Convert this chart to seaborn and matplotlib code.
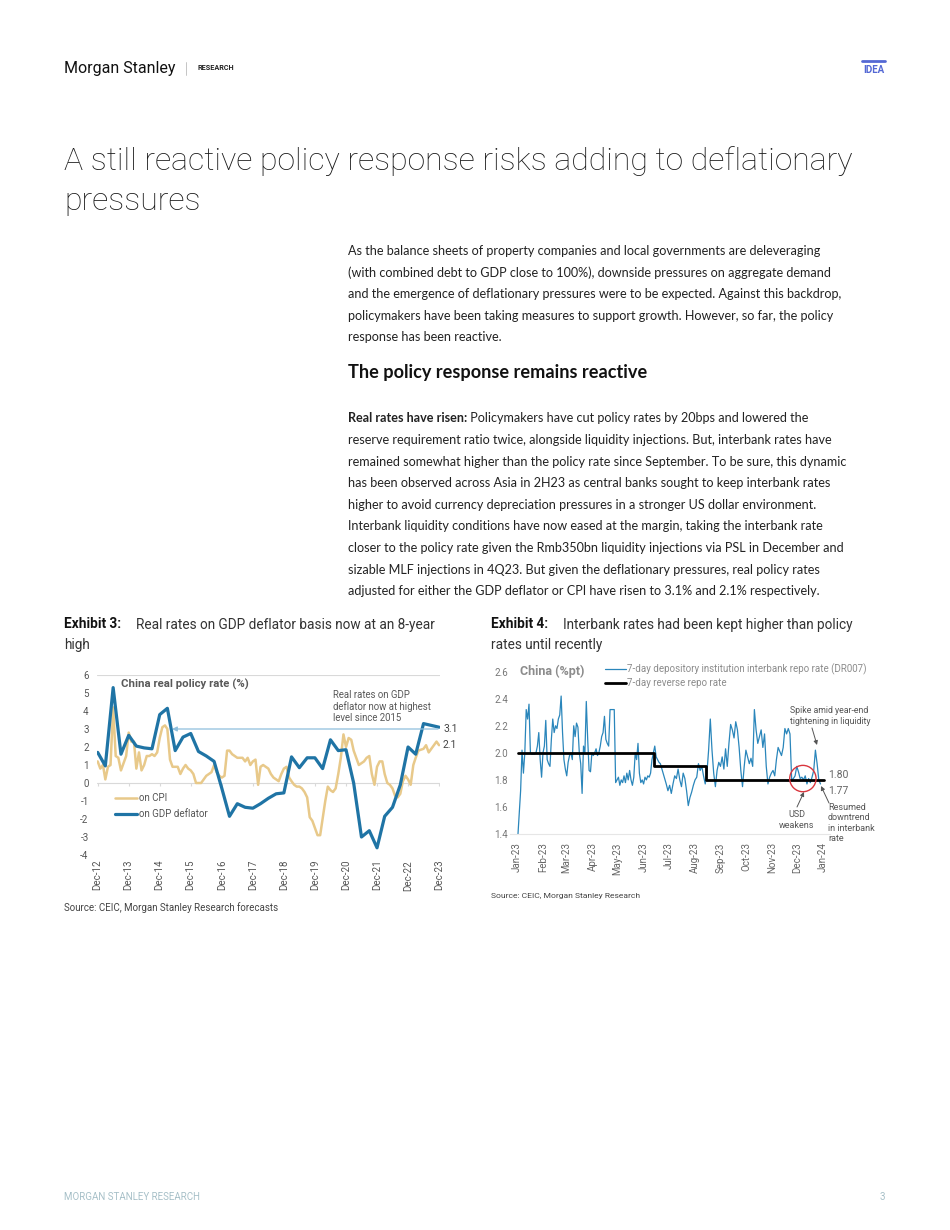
import matplotlib
matplotlib.use("Agg")
import pandas as pd
import matplotlib.pyplot as plt
from matplotlib import font_manager
import seaborn as sns

# ==============================
# DATA
# ==============================
# Exhibit 3: China real policy rate (%), monthly CPI basis from Dec-12
cpi_real = [
    1.2,
    0.8, 1.0, 0.2, 0.9, 1.0, 4.2, 1.5, 1.4, 0.7, 1.1, 1.5, 2.8,
    2.3, 2.3, 0.8, 1.7, 0.7, 1.0, 1.5, 1.5, 1.6, 1.5, 1.7, 2.5,
    3.1, 3.2, 3.0, 1.3, 0.9, 0.9, 0.9, 0.5, 0.8, 1.0, 0.8, 0.7,
    0.5, 0.0, 0.0, 0.0, 0.2, 0.4, 0.5, 0.6, 1.0, 0.6, 0.4, 0.3,
    0.4, 1.8, 1.8, 1.6, 1.5, 1.4, 1.4, 1.4, 1.2, 1.4, 1.0, 1.2,
    1.3, -0.1, 0.9, 1.0, 0.9, 0.8, 0.5, 0.3, 0.2, 0.1, 0.5, 0.8,
    0.9, 0.3, 0.1, -0.1, -0.2, -0.2, -0.3, -0.5, -0.8, -1.9, -2.1, -2.5,
    -2.9, -2.9, -2.0, -1.0, -0.2, -0.4, -0.5, -0.3, 0.5, 1.4, 2.7, 2.0,
    2.5, 2.4, 1.8, 1.4, 1.0, 1.1, 1.2, 1.4, 1.5, 0.5, -0.1, 0.9,
    1.2, 1.2, 0.5, 0.0, -0.1, -0.3, -0.7, -0.8, -0.6, 0.1, 0.4, 0.2,
    -0.1, 1.0, 1.4, 1.8, 1.85, 1.9, 2.1, 1.7, 1.9, 2.1, 2.3, 2.1,
]
# quarterly GDP deflator basis from Dec-12
gdp_real = [
    1.7,
    0.95, 5.3, 1.6, 2.65,
    2.05, 1.95, 1.9, 3.8,
    4.15, 1.8, 2.55, 2.75,
    1.75, 1.5, 1.2, -0.3,
    -1.85, -1.15, -1.35, -1.4,
    -1.15, -0.85, -0.6, -0.55,
    1.45, 0.85, 1.4, 1.4,
    0.8, 2.4, 1.8, 1.85,
    0.0, -3.0, -2.65, -3.6,
    -1.85, -1.35, -0.1, 2.0,
    1.6, 3.3, 3.2, 3.1,
]

# Exhibit 4: DR007 (%), Jan-23 to late Jun-23, then late Jun-23 to end-Dec-23
dr007_h1 = [
    1.38, 1.55, 1.72, 2.02, 1.85, 2.00, 2.32, 2.25, 2.36, 2.00, 1.99, 1.99,
    1.99, 2.00, 2.05, 2.15, 1.95, 1.82, 2.00, 2.05, 2.24, 1.95, 1.92, 1.90,
    2.10, 2.25, 2.15, 2.20, 2.18, 2.25, 2.28, 2.42, 2.15, 1.95, 1.88, 1.83,
    1.93, 1.98, 2.00, 1.95, 2.20, 2.12, 2.22, 2.19, 2.00, 1.92, 1.70, 2.05,
    2.00, 2.38, 2.10, 1.87, 1.86, 2.00, 1.98, 2.00, 2.03, 1.98, 2.00, 2.05,
    2.12, 2.15, 2.27, 2.10, 2.07, 2.05, 2.32, 2.32, 2.32, 2.32, 1.78, 1.80,
    1.82, 1.76, 1.80, 1.78, 1.83, 1.78, 1.85, 1.80, 1.87, 1.80, 1.76, 1.82,
    2.00, 1.95, 2.07, 1.85, 1.78, 1.80, 1.77, 1.82, 1.80, 1.83, 1.82, 1.85,
    1.95, 2.00, 2.05, 1.97, 1.95, 1.93, 1.92,
]
dr007_h2 = [
    1.77, 1.72, 1.76, 1.70, 1.77, 1.83, 1.81, 1.88, 1.80, 1.75, 1.85, 1.81,
    1.72, 1.61, 1.67, 1.71, 1.76, 1.80, 1.82, 1.92, 1.87, 1.90, 1.83, 1.77,
    1.85, 2.02, 2.25, 2.02, 1.85, 1.75, 1.87, 1.93, 1.90, 1.97, 1.88, 2.03,
    1.90, 2.07, 2.21, 2.17, 2.11, 2.23, 2.17, 2.04, 1.87, 1.75, 1.90, 2.02,
    1.97, 1.92, 1.96, 1.90, 2.32, 2.17, 2.07, 2.12, 2.17, 2.04, 2.14, 1.90,
    1.77, 1.82, 1.85, 1.87, 1.83, 1.95, 2.04, 2.01, 1.98, 2.04, 2.18, 2.14,
    2.18, 2.14, 1.80, 1.81, 1.83, 1.90, 1.86, 1.81, 1.82, 1.80, 1.83, 1.77,
    1.81, 1.78, 1.82, 1.87, 2.02, 1.92, 1.80, 1.77,
]
# 7-day reverse repo rate (%), step changes
rrp_dates = ["2023-01-02", "2023-06-13", "2023-08-15", "2024-01-02"]
rrp_rate = [2.0, 1.9, 1.8, 1.8]

cpi_dates = pd.date_range("2012-12-01", periods=len(cpi_real), freq="MS")
gdp_dates = pd.date_range("2012-12-01", periods=len(gdp_real), freq="QS-DEC")
dr_dates = pd.DatetimeIndex(
    list(pd.date_range("2023-01-02", "2023-06-21", periods=len(dr007_h1)))
    + list(pd.date_range("2023-06-28", "2023-12-29", periods=len(dr007_h2)))
)

cpi_df = pd.DataFrame({"date": cpi_dates, "rate": cpi_real})
gdp_df = pd.DataFrame({"date": gdp_dates, "rate": gdp_real})
dr_df = pd.DataFrame({"date": dr_dates, "rate": dr007_h1 + dr007_h2})
rrp_df = pd.DataFrame({"date": pd.to_datetime(rrp_dates), "rate": rrp_rate})

# ==============================
# FONTS / STYLE
# ==============================
sns.set_style("white")
avail = {f.name for f in font_manager.fontManager.ttflist}


def pick(*names):
    for n in names:
        if n in avail:
            return n
    return "DejaVu Sans"


BODY = pick("Lato", "Open Sans", "Noto Sans")
CHART = pick("Roboto", "Liberation Sans", "Noto Sans")
NARROW = pick("Liberation Sans Narrow", "Roboto")
plt.rcParams["font.family"] = [CHART, "DejaVu Sans"]
plt.rcParams["axes.unicode_minus"] = False

GDP_COL = "#1f74a5"
CPI_COL = "#e8c98a"
DR_COL = "#2a86bb"
GRID = "#d9d9d9"

fig = plt.figure(figsize=(9.5, 12.3), dpi=100)
W, H = 950.0, 1230.0


def box(left, top, right, bottom):
    return [left / W, 1 - bottom / H, (right - left) / W, (bottom - top) / H]


# ==============================
# EXHIBIT 3
# ==============================
ax1 = fig.add_axes(box(97, 675, 440, 855))
ax1.set_facecolor("none")
sns.lineplot(data=cpi_df, x="date", y="rate", ax=ax1, color=CPI_COL, lw=1.8, label="on CPI")
sns.lineplot(data=gdp_df, x="date", y="rate", ax=ax1, color=GDP_COL, lw=2.3, label="on GDP deflator")
ax1.set_ylim(-4, 6)
ax1.set_yticks(range(-4, 7))
ax1.set_xlim(pd.Timestamp("2012-11-23"), pd.Timestamp("2023-12-12"))
dec_ticks = pd.date_range("2012-12-01", "2023-12-01", freq="12MS")
ax1.set_xticks(dec_ticks)
ax1.set_xticklabels([d.strftime("%b-%y") for d in dec_ticks])
ax1.set_xlabel("")
ax1.set_ylabel("")
ax1.axhline(6, color=GRID, lw=0.8, zorder=0)
ax1.axhline(0, color=GRID, lw=0.8, zorder=0)
ax1.vlines(dec_ticks, -0.18, 0, color=GRID, lw=0.8, zorder=0)
ax1.tick_params(axis="x", length=0, pad=3.5, labelrotation=90, labelsize=7, labelcolor="#555555")
ax1.tick_params(axis="y", length=0, pad=6, labelsize=7, labelcolor="#555555")
for s in ax1.spines.values():
    s.set_visible(False)
ax1.legend(loc="upper left", bbox_to_anchor=(0.052, 0.342), frameon=False, fontsize=7,
           handlelength=2.3, handletextpad=0.2, labelspacing=0.6, borderpad=0,
           borderaxespad=0, labelcolor="#555555")

# ==============================
# EXHIBIT 4
# ==============================
ax2 = fig.add_axes(box(510, 671.7, 830, 834))
ax2.set_facecolor("none")
sns.lineplot(data=dr_df, x="date", y="rate", ax=ax2, color=DR_COL, lw=0.9,
             label="7-day depository institution interbank repo rate (DR007)")
sns.lineplot(data=rrp_df, x="date", y="rate", ax=ax2, color="black", lw=2.0,
             drawstyle="steps-post", label="7-day reverse repo rate")
ax2.set_ylim(1.4, 2.6)
ax2.set_yticks([1.4, 1.6, 1.8, 2.0, 2.2, 2.4, 2.6])
ax2.set_xlim(pd.Timestamp("2022-12-23 16:00"), pd.Timestamp("2024-01-09 08:00"))
mon_ticks = pd.date_range("2023-01-01", "2024-01-01", freq="MS")
ax2.set_xticks(mon_ticks)
ax2.set_xticklabels([d.strftime("%b-%y") for d in mon_ticks])
ax2.set_xlabel("")
ax2.set_ylabel("")
ax2.tick_params(axis="x", length=0, pad=6, labelrotation=90, labelsize=7, labelcolor="#666666")
ax2.tick_params(axis="y", length=0, pad=1.5, labelsize=7, labelcolor="#777777")
for k, s in ax2.spines.items():
    s.set_visible(k == "bottom")
ax2.spines["bottom"].set_color("#e6e6e6")
ax2.spines["bottom"].set_linewidth(0.8)
ax2.legend(loc="upper left", bbox_to_anchor=(0.297, 1.05), frameon=False, fontsize=7,
           handlelength=2.2, handletextpad=0.1, labelspacing=0.3, borderpad=0,
           borderaxespad=0, labelcolor="#8c8c8c")
# red circle around the December dip
ax2.scatter([pd.Timestamp("2023-12-08")], [1.81], s=360, marker="o", facecolors="none",
            edgecolors="#d9363e", linewidths=1.0, zorder=5)

# ==============================
# PAGE TEXT (pixel coordinates)
# ==============================
page = fig.add_axes([0, 0, 1, 1], zorder=10)
page.set_xlim(0, W)
page.set_ylim(H, 0)
page.axis("off")

# header
page.text(64, 68, "Morgan Stanley", fontsize=11.5, color="#111111", va="center")
page.plot([186, 186], [62, 75], color="#bbbbbb", lw=0.6)
page.text(197, 68.5, "RESEARCH", fontsize=5.2, fontweight="bold", color="#222222", va="center")
page.plot([862, 885], [60.5, 60.5], color="#5468d4", lw=2)
page.text(873.5, 70, "IDEA", fontsize=7, fontweight="bold", color="#5468d4", va="center", ha="center")

# title
if NARROW == "Liberation Sans Narrow":
    tkw = dict(fontsize=22, family=[NARROW])
else:
    tkw = dict(fontsize=23, family=[NARROW], fontweight="light")
page.text(64, 170, "A still reactive policy response risks adding to deflationary", color="#1a1a1a",
          va="baseline", **tkw)
page.text(64, 210, "pressures", color="#1a1a1a", va="baseline", **tkw)

bkw = dict(fontsize=9.05, color="#222222", va="center", family=[BODY, "DejaVu Sans"])
para1 = [
    "As the balance sheets of property companies and local governments are deleveraging",
    "(with combined debt to GDP close to 100%), downside pressures on aggregate demand",
    "and the emergence of deflationary pressures were to be expected. Against this backdrop,",
    "policymakers have been taking measures to support growth. However, so far, the policy",
    "response has been reactive.",
]
for i, line in enumerate(para1):
    page.text(348, 250.7 + i * 21.65, line, **bkw)

page.text(348, 372.7, "The policy response remains reactive", fontsize=13.1, fontweight="bold",
          color="#111111", va="center", family=[BODY, "DejaVu Sans"])

para2 = [
    "reserve requirement ratio twice, alongside liquidity injections. But, interbank rates have",
    "remained somewhat higher than the policy rate since September. To be sure, this dynamic",
    "has been observed across Asia in 2H23 as central banks sought to keep interbank rates",
    "higher to avoid currency depreciation pressures in a stronger US dollar environment.",
    "Interbank liquidity conditions have now eased at the margin, taking the interbank rate",
    "closer to the policy rate given the Rmb350bn liquidity injections via PSL in December and",
    "sizable MLF injections in 4Q23. But given the deflationary pressures, real policy rates",
    "adjusted for either the GDP deflator or CPI have risen to 3.1% and 2.1% respectively.",
]
lead = page.text(348, 418.3, "Real rates have risen:", fontweight="bold", **bkw)
page.annotate(" Policymakers have cut policy rates by 20bps and lowered the", xy=(1, 0.5),
              xycoords=lead, ha="left", **bkw)
for i, line in enumerate(para2):
    page.text(348, 418.3 + (i + 1) * 21.6, line, **bkw)

# exhibit titles
ekw = dict(fontsize=9.8, va="center", family=[CHART, "DejaVu Sans"])
page.text(64, 624.5, "Exhibit 3:", fontweight="bold", color="#111111", **ekw)
page.text(136, 624.5, "Real rates on GDP deflator basis now at an 8-year", color="#333333", **ekw)
page.text(64, 645.5, "high", color="#333333", **ekw)
page.text(491, 624.5, "Exhibit 4:", fontweight="bold", color="#111111", **ekw)
page.text(563, 624.5, "Interbank rates had been kept higher than policy", color="#333333", **ekw)
page.text(491, 645.5, "rates until recently", color="#333333", **ekw)

# exhibit 3 annotations
page.text(121, 684.5, "China real policy rate (%)", fontsize=8.2, fontweight="bold",
          color="#595959", va="center")
page.text(333, 690.5, "Real rates on GDP\ndeflator now at highest\nlevel since 2015", fontsize=6.95,
          color="#595959", va="top", linespacing=1.1)
page.annotate("", xy=(172, 729), xytext=(438, 729),
              arrowprops=dict(arrowstyle="-|>", color="#8fbfdc", lw=0.9, mutation_scale=7,
                              shrinkA=0, shrinkB=0))
page.text(443, 729.5, f"{gdp_real[-1]:.1f}", fontsize=7.5, color="#444444", va="center")
page.text(443, 745.5, f"{cpi_real[-1]:.1f}", fontsize=7.5, color="#444444", va="center")
page.text(64, 908, "Source: CEIC, Morgan Stanley Research forecasts", fontsize=7.0,
          color="#444444", va="center")

# exhibit 4 annotations
page.text(520, 671, "China (%pt)", fontsize=9, fontweight="bold", color="#8c8c8c", va="center")
page.text(790, 716, "Spike amid year-end\ntightening in liquidity", fontsize=6.3, color="#555555",
          va="center", linespacing=1.2)
akw = dict(arrowstyle="-|>", color="#555555", lw=0.7, mutation_scale=6, shrinkA=0, shrinkB=0)
page.annotate("", xy=(817, 745), xytext=(812, 728), arrowprops=akw)
page.text(828, 775, f"{rrp_rate[-1]:.2f}", fontsize=7.5, color="#666666", va="center")
page.text(828, 791, f"{dr007_h2[-1]:.2f}", fontsize=7.5, color="#666666", va="center")
page.text(797, 820, "USD\nweakens", fontsize=6.5, color="#555555", va="center", ha="center",
          linespacing=1.15)
page.annotate("", xy=(804, 792), xytext=(797, 807), arrowprops=akw)
page.text(828, 823, "Resumed\ndowntrend\nin interbank\nrate", fontsize=6.5, color="#555555",
          va="center", linespacing=1.15)
page.annotate("", xy=(821, 786), xytext=(829, 803), arrowprops=akw)
page.text(491, 896, "Source: CEIC, Morgan Stanley Research", fontsize=6.1, color="#444444",
          va="center")

# footer
page.text(64, 1197, "MORGAN STANLEY RESEARCH", fontsize=7, color="#a7c0c8", va="center")
page.text(885, 1197, "3", fontsize=7, color="#a7c0c8", va="center", ha="right")

fig.savefig("out.png", dpi=100)
